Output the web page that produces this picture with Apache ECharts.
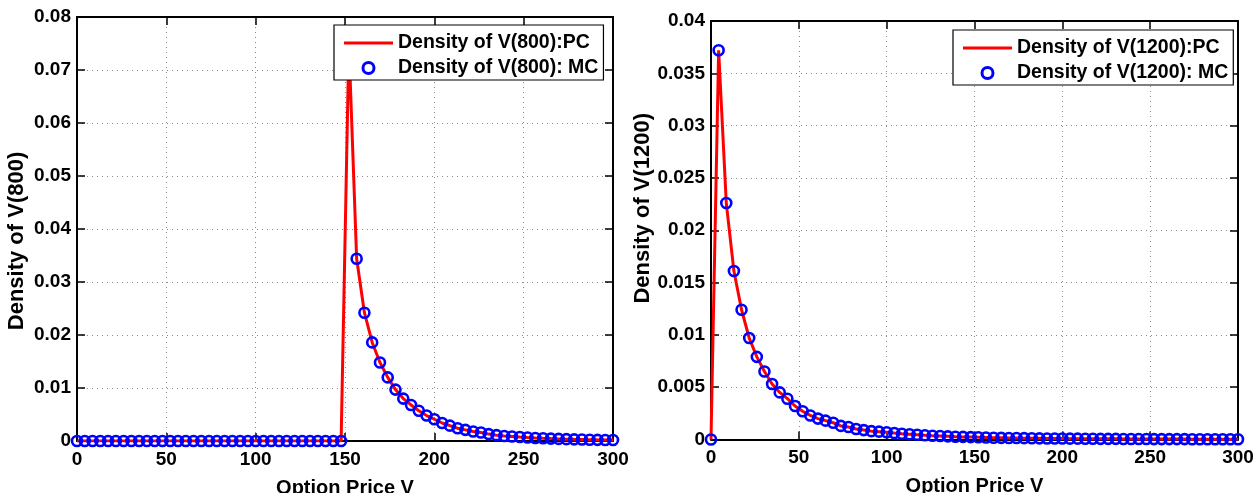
<!DOCTYPE html>
<html>
<head>
<meta charset="utf-8">
<script src="https://cdn.jsdelivr.net/npm/echarts@6/dist/echarts.min.js"></script>
<style>html,body{margin:0;padding:0;background:#fff;}#c{width:1255px;height:493px;}</style>
</head>
<body>
<div id="c"></div>
<script>
// Option price grid (70 points from 0 to 300)
const optionPrice = [0, 4.35, 8.70, 13.04, 17.39, 21.74, 26.09, 30.43, 34.78, 39.13,
  43.48, 47.83, 52.17, 56.52, 60.87, 65.22, 69.57, 73.91, 78.26, 82.61,
  86.96, 91.30, 95.65, 100.00, 104.35, 108.70, 113.04, 117.39, 121.74, 126.09,
  130.43, 134.78, 139.13, 143.48, 147.83, 152.17, 156.52, 160.87, 165.22, 169.57,
  173.91, 178.26, 182.61, 186.96, 191.30, 195.65, 200.00, 204.35, 208.70, 213.04,
  217.39, 221.74, 226.09, 230.43, 234.78, 239.13, 243.48, 247.83, 252.17, 256.52,
  260.87, 265.22, 269.57, 273.91, 278.26, 282.61, 286.96, 291.30, 295.65, 300.00];

// Density of V(800)
const density800 = [0,0,0,0,0,0,0,0,0,0, 0,0,0,0,0,0,0,0,0,0,
  0,0,0,0,0,0,0,0,0,0, 0,0,0,0,0, 0.075, 0.0344, 0.0242, 0.0186, 0.0148,
  0.0120, 0.0097, 0.0080, 0.0068, 0.0057, 0.0048, 0.0041, 0.0034, 0.0029, 0.0024,
  0.0021, 0.0018, 0.0016, 0.0013, 0.0011, 0.00095, 0.00085, 0.00075, 0.00066, 0.00058,
  0.00051, 0.00045, 0.00040, 0.00035, 0.00031, 0.00028, 0.00025, 0.00022, 0.00020, 0.00018];

// Density of V(1200)
const density1200 = [0, 0.0372, 0.0226, 0.0161, 0.0124, 0.0097, 0.0079, 0.0065, 0.0053, 0.0045,
  0.0039, 0.0032, 0.0027, 0.0023, 0.0020, 0.0018, 0.0016, 0.0013, 0.0012, 0.0010,
  0.0009, 0.0008, 0.00075, 0.0007, 0.00062, 0.00055, 0.0005, 0.00045, 0.0004, 0.00036,
  0.00033, 0.0003, 0.00027, 0.00025, 0.00023, 0.00021, 0.00019, 0.00017, 0.00016, 0.00015,
  0.00014, 0.00013, 0.00012, 0.00011, 0.00010, 0.00009, 0.00009, 0.00008, 0.00008, 0.00007,
  0.00007, 0.00006, 0.00006, 0.00006, 0.00005, 0.00005, 0.00005, 0.00005, 0.00004, 0.00004,
  0.00004, 0.00004, 0.00004, 0.00003, 0.00003, 0.00003, 0.00003, 0.00003, 0.00003, 0.00003];

const xTicks = [0, 50, 100, 150, 200, 250, 300];
const yTicksLeft = ['0', '0.01', '0.02', '0.03', '0.04', '0.05', '0.06', '0.07', '0.08'];
const yTicksRight = ['0', '0.005', '0.01', '0.015', '0.02', '0.025', '0.03', '0.035', '0.04'];

const names = {
  pcL: 'Density of V(800):PC', mcL: 'Density of V(800): MC',
  pcR: 'Density of V(1200):PC', mcR: 'Density of V(1200): MC'
};

const FONT = "'Liberation Sans', Arial, Helvetica, sans-serif";
const pairs = d => optionPrice.map((x, i) => [x, d[i]]);

const chart = echarts.init(document.getElementById('c'), null, {renderer: 'canvas'});

const grid = [
  {left: 77, right: 642, top: 17, bottom: 52, outerBoundsMode: 'none', containLabel: false},
  {left: 711, right: 17, top: 21, bottom: 53.5, outerBoundsMode: 'none', containLabel: false}
];

function xAx(gi, primary) {
  return {
    type: 'value', gridIndex: gi, min: 0, max: 300, interval: 50,
    position: primary ? 'bottom' : 'top',
    name: primary ? 'Option Price V' : '',
    nameLocation: 'middle', nameGap: 37,
    nameTextStyle: {fontFamily: FONT, fontWeight: 'bold', fontSize: 20, color: '#000', verticalAlign: 'top'},
    axisLine: {show: true, onZero: false, lineStyle: {color: '#000', width: 2}},
    axisTick: {show: true, inside: true, length: 8, lineStyle: {color: '#000', width: 1.5}},
    axisLabel: {show: primary, margin: 9, fontFamily: FONT, fontWeight: 'bold', fontSize: 19, color: '#000',
      formatter: v => { const i = xTicks.indexOf(v); return i >= 0 ? String(xTicks[i]) : ''; }},
    splitLine: {show: primary, lineStyle: {color: '#8a8a8a', width: 1, type: [1, 4]}}
  };
}
function yAx(gi, primary, max, interval, ticks, name, gap, pad) {
  return {
    type: 'value', gridIndex: gi, min: 0, max: max, interval: interval,
    position: primary ? 'left' : 'right',
    name: primary ? name : '',
    nameLocation: 'middle', nameGap: gap, nameRotate: 90,
    nameTextStyle: {fontFamily: FONT, fontWeight: 'bold', fontSize: 22, color: '#000', padding: pad},
    axisLine: {show: true, onZero: false, lineStyle: {color: '#000', width: 2}},
    axisTick: {show: true, inside: true, length: 8, lineStyle: {color: '#000', width: 1.5}},
    axisLabel: {show: primary, margin: 6, fontFamily: FONT, fontWeight: 'bold', fontSize: 19, color: '#000',
      formatter: v => { const i = Math.round(v / interval); return ticks[i] !== undefined ? ticks[i] : ''; }},
    splitLine: {show: primary, lineStyle: {color: '#8a8a8a', width: 1, type: [1, 4]}}
  };
}

function lineS(name, xi, yi, data) {
  return {name, type: 'line', xAxisIndex: xi, yAxisIndex: yi, data: pairs(data),
    symbol: 'none', showSymbol: false, z: 2, clip: true,
    lineStyle: {color: '#ff0000', width: 3}, itemStyle: {color: '#ff0000'}, animation: false};
}
function mcS(name, xi, yi, data) {
  return {name, type: 'scatter', xAxisIndex: xi, yAxisIndex: yi, data: pairs(data),
    symbol: 'circle', symbolSize: 10, z: 3, clip: false,
    itemStyle: {color: 'rgba(255,255,255,0)', opacity: 1, borderColor: '#0000ff', borderWidth: 2.6},
    emphasis: {disabled: true}, animation: false};
}

const LINE_ICON = 'path://M0,0L49,0L49,3L0,3Z';
function legend(left, top, data) {
  return {
    left, top, orient: 'vertical', z: 20,
    data: [
      {name: data[0], icon: LINE_ICON, itemStyle: {color: '#ff0000', borderWidth: 0}},
      {name: data[1], icon: 'circle', itemStyle: {color: 'rgba(255,255,255,0)', borderColor: '#0000ff', borderWidth: 3}}
    ],
    backgroundColor: '#fff', borderColor: '#000', borderWidth: 1.2,
    padding: [8, 5, 2, 10], itemGap: 5, itemWidth: 49, itemHeight: 11,
    itemStyle: {borderWidth: 0},
    textStyle: {fontFamily: FONT, fontWeight: 'bold', fontSize: 19.5, color: '#000', lineHeight: 20},
    selectedMode: false
  };
}

chart.setOption({
  animation: false,
  grid: grid,
  xAxis: [xAx(0, true), xAx(0, false), xAx(1, true), xAx(1, false)],
  yAxis: [
    yAx(0, true, 0.08, 0.01, yTicksLeft, 'Density of V(800)', 49, [0, 24, 0, 0]),
    yAx(0, false, 0.08, 0.01, yTicksLeft, '', 0, 0),
    yAx(1, true, 0.04, 0.005, yTicksRight, 'Density of V(1200)', 55, [0, 0, 0, 44]),
    yAx(1, false, 0.04, 0.005, yTicksRight, '', 0, 0)
  ],
  legend: [
    legend(334, 25, [names.pcL, names.mcL]),
    legend(953, 30, [names.pcR, names.mcR])
  ],
  series: [
    lineS(names.pcL, 0, 0, density800),
    mcS(names.mcL, 0, 0, density800),
    lineS(names.pcR, 2, 2, density1200),
    mcS(names.mcR, 2, 2, density1200)
  ]
});
</script>
</body>
</html>
